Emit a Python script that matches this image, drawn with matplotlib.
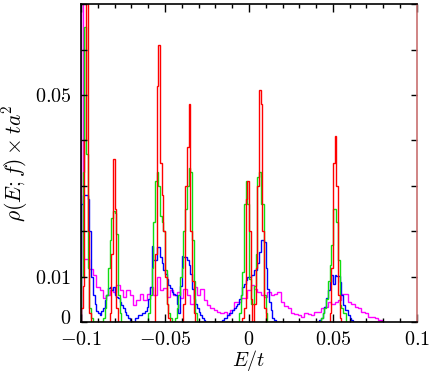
import numpy as np
import matplotlib
matplotlib.use("Agg")
import matplotlib.pyplot as plt
import matplotlib.transforms as mtransforms

plt.rcParams['mathtext.fontset'] = 'cm'
plt.rcParams['font.family'] = 'DejaVu Serif'

# histograms on a 0.001 grid; each entry: (left edge of first bin, bin heights)
bin_w = 0.001
grid_lo, grid_hi = -0.100, 0.080

red_segments = [
    (-0.100, [0.003, 0.008, 0.040, 0.090, 0.020, 0.002]),
    (-0.083, [0.002, 0.015, 0.036, 0.025, 0.003]),
    (-0.056, [0.015, 0.052, 0.061, 0.035, 0.028, 0.020, 0.010, 0.004, 0.001]),
    (-0.039, [0.004, 0.030, 0.0385, 0.048, 0.020, 0.009, 0.002]),
    (-0.004, [0.001, 0.003, 0.027, 0.031, 0.020, 0.005]),
    (0.003, [0.004, 0.012, 0.030, 0.051, 0.048, 0.020, 0.003]),
    (0.048, [0.002, 0.012, 0.035, 0.041, 0.030, 0.006, 0.001]),
]

green_segments = [
    (-0.100, [0.010, 0.033, 0.065, 0.037, 0.012, 0.003, 0.001]),
    (-0.087, [0.001, 0.003, 0.006, 0.012, 0.018, 0.023, 0.0245, 0.024,
              0.0195, 0.006, 0.002]),
    (-0.060, [0.002, 0.006, 0.012, 0.022, 0.031, 0.033, 0.030, 0.0234,
              0.022, 0.020, 0.0114, 0.004, 0.002, 0.001]),
    (-0.044, [0.001, 0.003, 0.006, 0.010, 0.012, 0.020, 0.025, 0.030,
              0.034, 0.033, 0.018, 0.009, 0.002]),
    (-0.006, [0.002, 0.006, 0.011, 0.026, 0.031, 0.026, 0.0096, 0.004,
              0.004, 0.008, 0.015, 0.032, 0.033, 0.026, 0.026, 0.006, 0.002]),
    (0.043, [0.001, 0.002, 0.003, 0.005, 0.009, 0.0125, 0.017, 0.025,
             0.025, 0.022, 0.0136, 0.0037, 0.003, 0.002, 0.002]),
]

blue_segments = [
    (-0.100, [0.026, 0.028, 0.028, 0.028, 0.027, 0.020, 0.010, 0.006,
              0.004, 0.0025, 0.002, 0.0015, 0.0025, 0.003, 0.0048, 0.006,
              0.0075, 0.0078, 0.007, 0.0077, 0.006, 0.0055, 0.0053, 0.0045,
              0.0037, 0.003, 0.0023, 0.0015, 0.0009, 0.0005, 0.0, 0.0,
              0.001, 0.001, 0.0015, 0.0015, 0.002, 0.002, 0.0025, 0.0034,
              0.005, 0.0077, 0.0168, 0.0136, 0.0136, 0.0166, 0.0166, 0.0143,
              0.013, 0.0115, 0.0107, 0.0096, 0.0081, 0.0075, 0.0066, 0.0062,
              0.0059, 0.004, 0.002, 0.008, 0.0146, 0.0143, 0.0143, 0.0136,
              0.0125, 0.0105, 0.0074, 0.005, 0.004, 0.003, 0.0023, 0.0015,
              0.001, 0.0005]),
    (-0.016, [0.0005, 0.0009, 0.001, 0.0015, 0.002, 0.002, 0.0026, 0.003,
              0.0035, 0.004, 0.005, 0.006, 0.0077, 0.0085, 0.0092, 0.0099,
              0.0099, 0.0103, 0.0103, 0.0114, 0.0114, 0.013, 0.0154, 0.018,
              0.018, 0.0176, 0.012, 0.0074, 0.0044, 0.0026, 0.001, 0.0005]),
    (0.042, [0.0005, 0.0009, 0.002, 0.0034, 0.0053, 0.007, 0.0088, 0.0103,
             0.0085, 0.0103, 0.0101, 0.0101, 0.0088, 0.0059, 0.0037, 0.0026,
             0.0026, 0.0015, 0.001, 0.0005]),
]

# magenta: one narrow bin at the edge, then 0.002 wide bins
magenta_first = 0.2
magenta_vals = [
    0.014, 0.014, 0.0118, 0.0103, 0.0077, 0.007, 0.0053, 0.006, 0.007, 0.0066,
    0.0081, 0.007, 0.0055, 0.007, 0.006, 0.0037, 0.0048, 0.0063, 0.0048, 0.0063,
    0.0077, 0.006, 0.0099, 0.007, 0.0075, 0.0055, 0.007, 0.006, 0.0066, 0.0053,
    0.0074, 0.006, 0.004, 0.0077, 0.006, 0.0074, 0.0048, 0.0037, 0.003, 0.0026,
    0.0023, 0.0019, 0.0023, 0.0015, 0.0026, 0.0045, 0.0044, 0.0053, 0.0053, 0.007,
    0.0081, 0.0074, 0.0066, 0.006, 0.0055, 0.0066, 0.006, 0.0063, 0.0066, 0.0045,
    0.0035, 0.003, 0.002, 0.0018, 0.0015, 0.0012, 0.002, 0.0018, 0.0016, 0.0023,
    0.0023, 0.003, 0.0034, 0.0044, 0.004, 0.0045, 0.0048, 0.0063, 0.0063, 0.0044,
    0.004, 0.0034, 0.003, 0.0023, 0.002, 0.0012, 0.0012, 0.0008, 0.0004,
]

xticks_major = [-0.1, -0.05, 0, 0.05, 0.1]
xtick_labels = ['$-0.1$', '$-0.05$', '$0$', '$0.05$', '$0.1$']
yticks = [0, 0.01, 0.02, 0.03, 0.04, 0.05, 0.06, 0.07]
ytick_labels = ['$0$', '$0.01$', '', '', '', '$0.05$', '', '']


def build(segments):
    n = int(round((grid_hi - grid_lo) / bin_w))
    vals = np.zeros(n)
    for start, heights in segments:
        i0 = int(round((start - grid_lo) / bin_w))
        vals[i0:i0 + len(heights)] = heights
    edges = grid_lo + bin_w * np.arange(n + 1)
    return vals, edges


fig = plt.figure(figsize=(4.36, 3.75), dpi=100)
ax = fig.add_axes([0.186, 0.141, 0.770, 0.848])

m_edges = np.concatenate([[-0.100], -0.099 + 0.002 * np.arange(len(magenta_vals) + 1)])
m_vals = np.concatenate([[magenta_first], magenta_vals])
ax.stairs(m_vals, m_edges, color='#ff00ff', lw=1.0)

for segs, col in [(blue_segments, '#0000ff'),
                  (green_segments, '#11dd11'),
                  (red_segments, '#ff0000')]:
    v, e = build(segs)
    ax.stairs(v, e, color=col, lw=1.0)

ax.set_xlim(-0.1, 0.1)
ax.set_ylim(0, 0.07)
ax.set_xticks(xticks_major)
ax.set_xticklabels(xtick_labels)
ax.set_xticks(np.arange(-0.1, 0.1001, 0.01), minor=True)
ax.set_yticks(yticks)
ax.set_yticklabels(ytick_labels)
ax.tick_params(which='both', direction='in', top=True, right=True,
               labelsize=14.5, width=1.0)
ax.tick_params(axis='x', which='major', length=6, pad=6)
ax.tick_params(axis='x', which='minor', length=3)
ax.tick_params(axis='y', which='major', length=4, pad=7)
for s in ax.spines.values():
    s.set_linewidth(1.2)
ax.spines['right'].set_color('#c87070')

# nudge the y "0" label up a little so it clears the "-0.1" below it
lab0 = ax.get_yticklabels()[0]
lab0.set_transform(lab0.get_transform() +
                   mtransforms.ScaledTranslation(0, 4 / 72, fig.dpi_scale_trans))

ax.set_xlabel(r'$E/t$', fontsize=14.5, labelpad=-1)
ax.set_ylabel(r'$\rho(E;f)\times ta^2$', fontsize=15.5, labelpad=3)

fig.savefig('out.png', dpi=100)
